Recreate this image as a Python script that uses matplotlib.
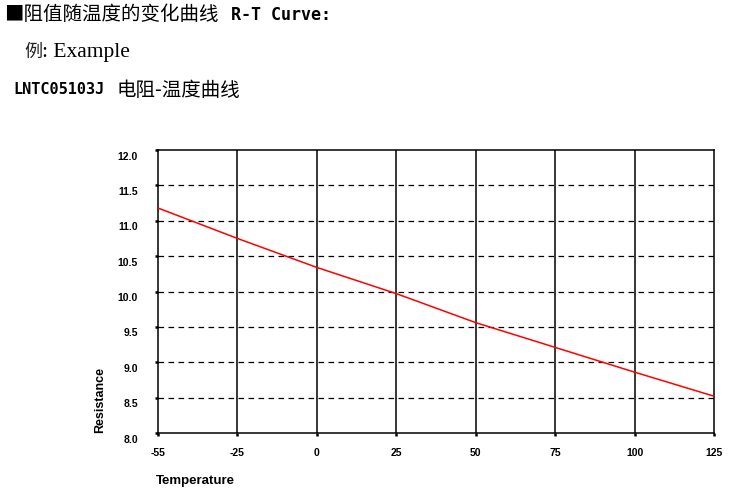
import matplotlib
matplotlib.use("Agg")
import matplotlib.pyplot as plt
from matplotlib.transforms import ScaledTranslation

# 数据
temps = ["-55", "-25", "0", "25", "50", "75", "100", "125"]
resistance = [11.18, 10.75, 10.34, 9.97, 9.56, 9.21, 8.86, 8.52]
y_ticks = [8.0, 8.5, 9.0, 9.5, 10.0, 10.5, 11.0, 11.5, 12.0]

W, H = 739, 490
fig = plt.figure(figsize=(W / 100, H / 100), dpi=100)

def px(x, y):
    return x / W, 1 - y / H

cjk = ['Noto Sans CJK SC', 'DejaVu Sans']

# 顶部文字
fig.text(*px(4, 15), "■阻值随温度的变化曲线", family=cjk, fontsize=14, va='center')
fig.text(*px(231, 15), "R-T Curve:", family='DejaVu Sans Mono', fontweight='bold',
         fontsize=12, va='center')
fig.text(*px(24, 52), "例", family=cjk, fontsize=13, va='center', color='#222222')
fig.text(*px(42, 52), ": Example", family='Liberation Serif', fontsize=15.5, va='center')
fig.text(*px(13, 90), "LNTC05103J", family='DejaVu Sans Mono', fontweight='bold',
         fontsize=11, va='center')
fig.text(*px(117, 90), "电阻-温度曲线", family=cjk, fontsize=14, va='center')

# 图表区域
ax = fig.add_axes([158 / W, 1 - 433 / H, (714 - 158) / W, (433 - 150) / H])
xs = list(range(len(temps)))
ax.plot(xs, resistance, color='red', lw=1.1, zorder=3)

ax.set_xlim(0, len(temps) - 1)
ax.set_ylim(8.0, 12.0)
ax.set_xticks(xs)
ax.set_xticklabels(temps)
ax.set_yticks(y_ticks)
ax.set_yticklabels([f"{v:.1f}" for v in y_ticks])

for lbl in ax.get_xticklabels() + ax.get_yticklabels():
    lbl.set_family('Liberation Sans')
    lbl.set_fontweight('bold')
    lbl.set_fontsize(7.5)
ax.tick_params(axis='x', length=2.5, width=1.8, pad=8, color='black')
ax.tick_params(axis='y', length=2.5, width=1.8, pad=12, color='black')
for lbl in ax.get_yticklabels():
    lbl.set_transform(lbl.get_transform() + ScaledTranslation(0, -4 / 72, fig.dpi_scale_trans))

# 网格线
for x in xs[1:-1]:
    ax.axvline(x, color='black', lw=1.1, zorder=1)
for y in y_ticks[1:-1]:
    ax.axhline(y, color='black', lw=0.9, ls=(0, (4.5, 3.5)), zorder=1)

for s in ax.spines.values():
    s.set_linewidth(1.1)
    s.set_color('black')

fig.text(*px(100, 400), "Resistance", rotation=90, family='Liberation Sans',
         fontweight='bold', fontsize=9, ha='center', va='center')
fig.text(*px(195, 481), "Temperature", family='Liberation Sans',
         fontweight='bold', fontsize=9.5, ha='center', va='center')

fig.savefig("out.png", dpi=100)
